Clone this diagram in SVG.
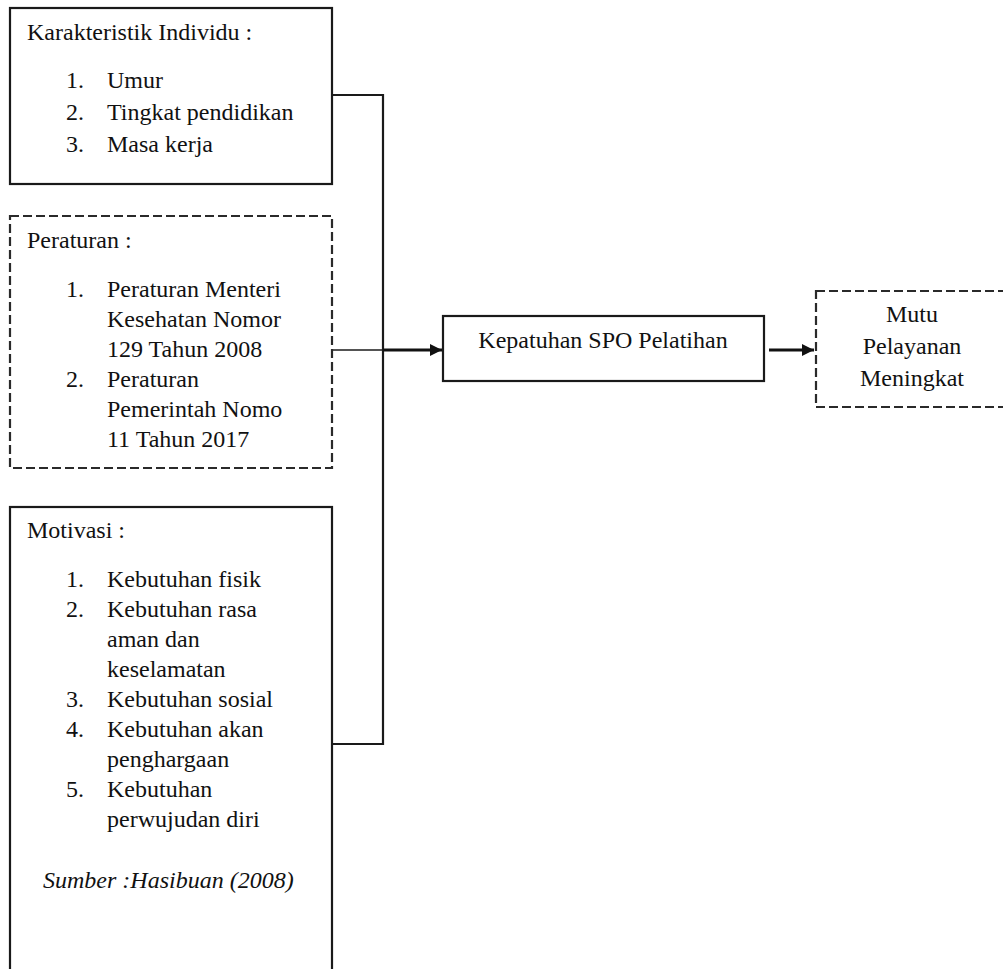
<svg xmlns="http://www.w3.org/2000/svg" width="1003" height="969" viewBox="0 0 1003 969">
<style>
text{font-size:24px;fill:#111}
.box{fill:#fff;stroke:#1a1a1a;stroke-width:2.2}
.dash{fill:#fff;stroke:#2a2a2a;stroke-width:2.2;stroke-dasharray:9 4}
.ln{fill:none;stroke:#1a1a1a;stroke-width:2.2}
.thin{fill:none;stroke:#1a1a1a;stroke-width:1.6}
.thick{fill:none;stroke:#111;stroke-width:3.2}
.mid{text-anchor:middle}
.it{font-style:italic}
</style>
<defs>
<marker id="ah" markerUnits="userSpaceOnUse" markerWidth="12" markerHeight="12" refX="12" refY="6" orient="auto">
<path d="M0,0 L12,6 L0,12 Z" fill="#111"/>
</marker>
</defs>
<rect width="1003" height="969" fill="#fff"/>
<g id="connectors">
<path class="ln" d="M332,95 H383 V744 H332"/>
<path class="thin" d="M332,350 H383"/>
<path class="thick" d="M383,350 H442" marker-end="url(#ah)"/>
<path class="thick" d="M769,350 H814" marker-end="url(#ah)"/>
</g>
<g font-family="Liberation Serif, Times New Roman, DejaVu Serif, serif">
<g id="karakteristik">
<rect class="box" x="10" y="8" width="322" height="176"/>
<text x="27" y="40">Karakteristik Individu :</text>
<text x="66" y="88">1.</text><text x="107" y="88">Umur</text>
<text x="66" y="120">2.</text><text x="107" y="120">Tingkat pendidikan</text>
<text x="66" y="152">3.</text><text x="107" y="152">Masa kerja</text>
</g>
<g id="peraturan">
<rect class="dash" x="10" y="216" width="322" height="252"/>
<text x="27" y="248">Peraturan :</text>
<text x="66" y="297">1.</text><text x="107" y="297">Peraturan Menteri</text>
<text x="107" y="327">Kesehatan Nomor</text>
<text x="107" y="357">129 Tahun 2008</text>
<text x="66" y="387">2.</text><text x="107" y="387">Peraturan</text>
<text x="107" y="417">Pemerintah Nomo</text>
<text x="107" y="447">11 Tahun 2017</text>
</g>
<g id="motivasi">
<rect class="box" x="10" y="507" width="322" height="480"/>
<text x="27" y="538">Motivasi :</text>
<text x="66" y="587">1.</text><text x="107" y="587">Kebutuhan fisik</text>
<text x="66" y="617">2.</text><text x="107" y="617">Kebutuhan rasa</text>
<text x="107" y="647">aman dan</text>
<text x="107" y="677">keselamatan</text>
<text x="66" y="707">3.</text><text x="107" y="707">Kebutuhan sosial</text>
<text x="66" y="737">4.</text><text x="107" y="737">Kebutuhan akan</text>
<text x="107" y="767">penghargaan</text>
<text x="66" y="797">5.</text><text x="107" y="797">Kebutuhan</text>
<text x="107" y="827">perwujudan diri</text>
<text class="it" x="43" y="888">Sumber :Hasibuan (2008)</text>
</g>
<g id="kepatuhan">
<rect class="box" x="443" y="316" width="321" height="65"/>
<text class="mid" x="603" y="348">Kepatuhan SPO Pelatihan</text>
</g>
<g id="mutu">
<rect class="dash" x="816" y="291" width="200" height="116"/>
<text class="mid" x="912" y="322">Mutu</text>
<text class="mid" x="912" y="354">Pelayanan</text>
<text class="mid" x="912" y="386">Meningkat</text>
</g>
</g>
</svg>
